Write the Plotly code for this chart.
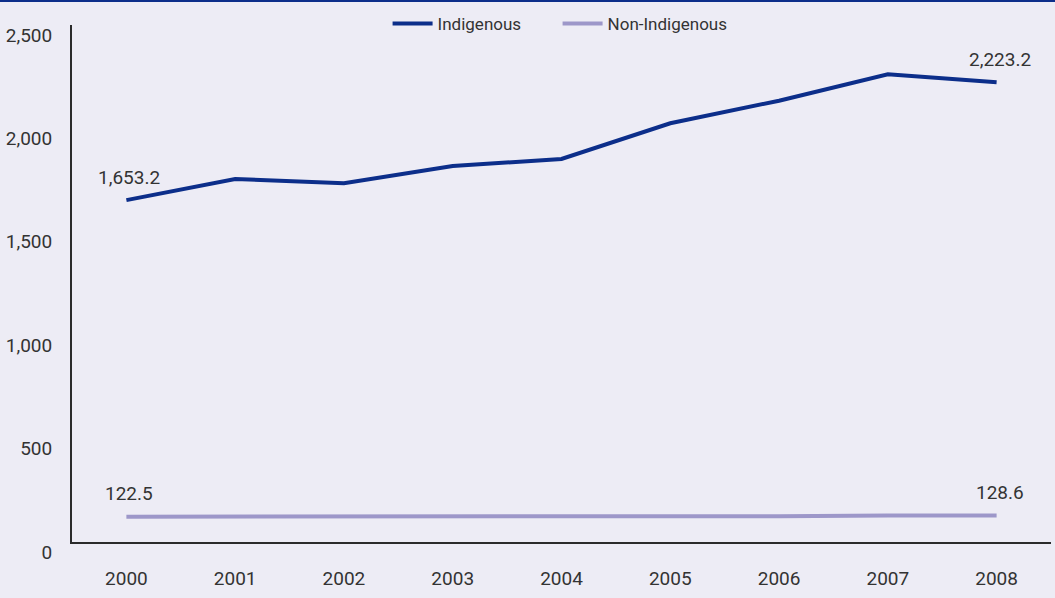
import plotly.graph_objects as go

# Rates per 100,000 population, 2000-2008
years = ["2000", "2001", "2002", "2003", "2004", "2005", "2006", "2007", "2008"]
indigenous = [1653.2, 1755, 1735, 1818, 1852, 2025, 2134, 2262, 2223.2]
non_indigenous = [122.5, 123, 119, 121, 123, 125, 125, 128, 128.6]

y_ticks = [0, 500, 1000, 1500, 2000, 2500]
y_tick_text = ["0", "500", "1,000", "1,500", "2,000", "2,500"]

BG = "#EDECF5"
DARK_BLUE = "#0C2E8A"
LAVENDER = "#9D97C9"
TEXT = "#333333"
FONT = "Roboto, sans-serif"
NUM_SIZE = 19
LEGEND_SIZE = 17

fig = go.Figure()
fig.add_trace(go.Scatter(x=years, y=indigenous, mode="lines", name="Indigenous",
                         line=dict(color=DARK_BLUE, width=4)))
fig.add_trace(go.Scatter(x=years, y=non_indigenous, mode="lines", name="Non-Indigenous",
                         line=dict(color=LAVENDER, width=4)))


def fmt(v):
    return f"{v:,.1f}"


# Value labels on the first and last points of each series
for series in (indigenous, non_indigenous):
    for i in (0, len(years) - 1):
        fig.add_annotation(x=i, y=series[i], xref="x", yref="y", text=fmt(series[i]),
                           showarrow=False, yshift=23, xshift=3,
                           font=dict(family=FONT, size=NUM_SIZE, color=TEXT))

W, H = 1055, 598
ml, mr, mt, mb = 72, 4, 25, 56
pw = W - ml - mr

fig.update_layout(
    width=W, height=H,
    margin=dict(l=ml, r=mr, t=mt, b=mb),
    paper_bgcolor=BG, plot_bgcolor=BG,
    font=dict(family=FONT, size=NUM_SIZE, color=TEXT),
    showlegend=True,
    legend=dict(orientation="h", x=0.496, xanchor="center", y=1.002, yanchor="middle",
                bgcolor="rgba(0,0,0,0)", itemwidth=40, entrywidth=115,
                font=dict(family=FONT, size=LEGEND_SIZE, color=TEXT)),
    xaxis=dict(type="category", range=[-0.5, 8.5], showgrid=False,
               showline=True, linecolor="#2b2b2b", linewidth=2,
               ticks="", ticklabelstandoff=18, zeroline=False),
    yaxis=dict(range=[0, 2500], tickvals=y_ticks, ticktext=y_tick_text,
               showgrid=False, showline=True, linecolor="#2b2b2b", linewidth=2,
               ticks="", ticklabelstandoff=14, ticklabelshift=10, zeroline=False),
    shapes=[dict(type="rect", xref="paper", yref="paper",
                 x0=-ml / pw, x1=1 + mr / pw,
                 y0=1 + (mt - 2) / (H - mt - mb), y1=1 + mt / (H - mt - mb),
                 fillcolor=DARK_BLUE, line=dict(width=0), layer="above")],
)

fig.write_html("out.html")
